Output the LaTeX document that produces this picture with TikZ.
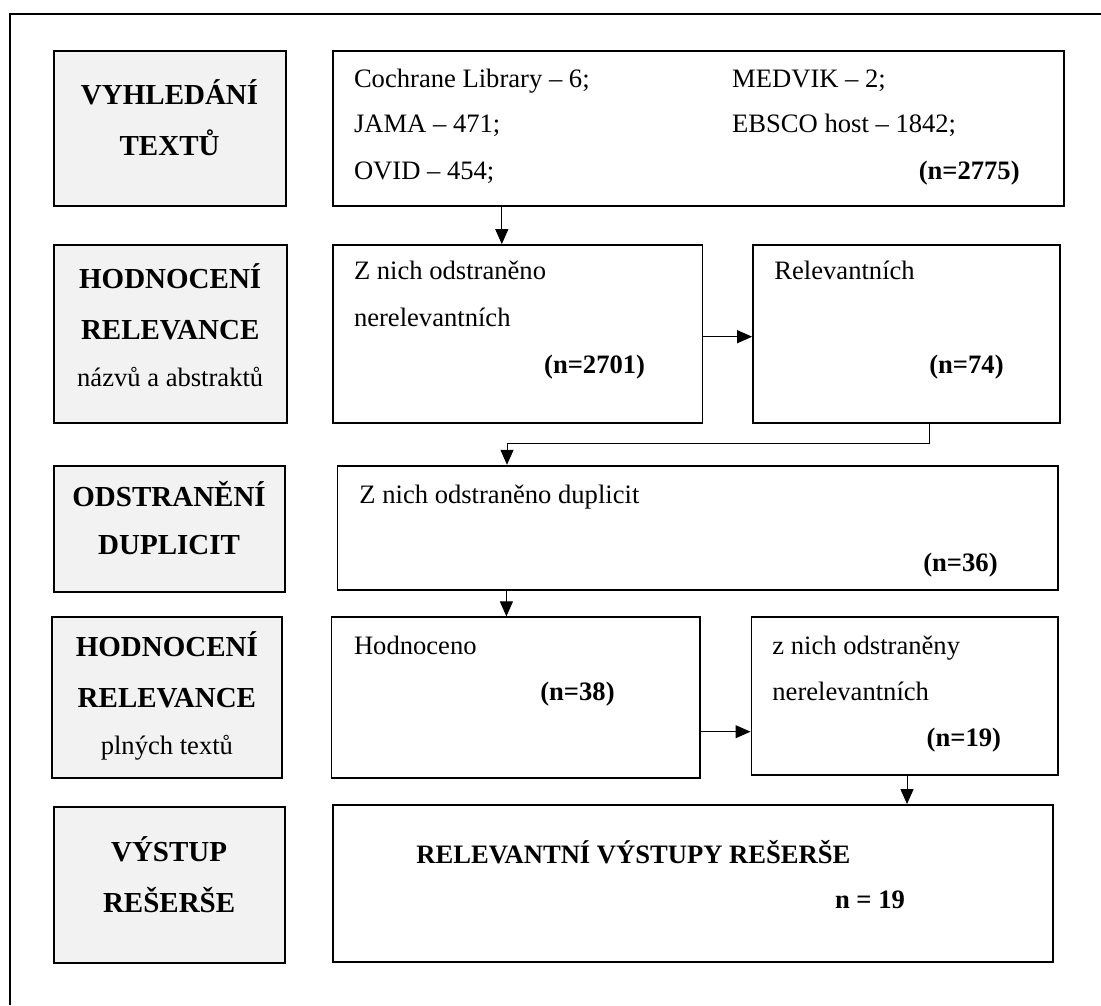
\documentclass[tikz,border=0pt]{standalone}
\usepackage{fontspec}
\setmainfont{Liberation Serif}
\usetikzlibrary{arrows.meta,fit}

\begin{document}
\begin{tikzpicture}[x=0.5pt, y=-0.5pt,
    labbox/.style={draw, line width=0.9pt, fill=black!5, inner sep=0pt},
    infobox/.style={draw, line width=0.9pt, fill=white, inner sep=0pt},
    labtxt/.style={anchor=base, inner sep=0pt, font=\fontsize{14.5}{17}\selectfont\bfseries},
    labsub/.style={anchor=base, inner sep=0pt, font=\fontsize{13.3}{16}\selectfont},
    txt/.style={anchor=base west, inner sep=0pt, font=\fontsize{13.3}{16}\selectfont},
    num/.style={anchor=base east, inner sep=0pt, font=\fontsize{13.3}{16}\selectfont\bfseries},
    arr/.style={-{Triangle[length=7.5pt,width=6.5pt]}, line width=0.5pt}
]
\useasboundingbox (0,0) rectangle (1101,1005);
% outer frame (cut off at right and bottom)
\draw[line width=1pt] (9.6,1005) |- (1101,14);

% left column
\node[labbox, fit={(53.6,50.7) (285.7,206)}] (lab1) {};
\node[labbox, fit={(53.6,245) (286.8,423.3)}] (lab2) {};
\node[labbox, fit={(53.6,465.7) (284.6,591.7)}] (lab3) {};
\node[labbox, fit={(51.8,617.3) (282,777.7)}] (lab4) {};
\node[labbox, fit={(53.6,806.7) (284.6,962.7)}] (lab5) {};

\node[labtxt] (l1a) at (169.6,105) {VYHLEDÁNÍ};
\node[labtxt] (l1b) at (169.6,156) {TEXTŮ};
\node[labtxt] (l2a) at (170.2,288.3) {HODNOCENÍ};
\node[labtxt] (l2b) at (170.2,339.3) {RELEVANCE};
\node[labsub] (l2c) at (170.2,386.7) {názvů a abstraktů};
\node[labtxt] (l3a) at (169.1,506.7) {ODSTRANĚNÍ};
\node[labtxt] (l3b) at (169.1,554) {DUPLICIT};
\node[labtxt] (l4a) at (166.9,656.7) {HODNOCENÍ};
\node[labtxt] (l4b) at (166.9,707.7) {RELEVANCE};
\node[labsub] (l4c) at (166.9,754) {plných textů};
\node[labtxt] (l5a) at (169.1,861.7) {VÝSTUP};
\node[labtxt] (l5b) at (169.1,912.7) {REŠERŠE};

% right column
\node[infobox, fit={(332.9,50.7) (1064,206)}] (src) {};
\node[infobox, fit={(333.2,245) (702.5,423.3)}] (excl1) {};
\node[infobox, fit={(753,245) (1059.6,423.3)}] (rel1) {};
\node[infobox, fit={(337.5,465.7) (1058,590)}] (dup) {};
\node[infobox, fit={(331.4,617.3) (700,777.7)}] (eval) {};
\node[infobox, fit={(751.4,617.3) (1057.9,775)}] (excl2) {};
\node[infobox, fit={(333.2,805) (1053.2,962.3)}] (out) {};

\node[txt] (s1) at (353.6,87.3) {Cochrane Library – 6;};
\node[txt] (s2) at (353.6,132.7) {JAMA – 471;};
\node[txt] (s3) at (353.6,180) {OVID – 454;};
\node[txt] (s4) at (731.8,87.3) {MEDVIK – 2;};
\node[txt] (s5) at (731.8,132.7) {EBSCO host – 1842;};
\node[num] (sn) at (1020,180) {(n=2775)};

\node[txt] (e1a) at (353.6,280) {Z nich odstraněno};
\node[txt] (e1b) at (353.6,326.7) {nerelevantních};
\node[num] (e1n) at (645.4,373.3) {(n=2701)};
\node[txt] (r1a) at (774,280) {Relevantních};
\node[num] (r1n) at (1004,373.3) {(n=74)};

\node[txt] (d1) at (359,503) {Z nich odstraněno duplicit};
\node[num] (dn) at (998,571.7) {(n=36)};

\node[txt] (v1) at (353.6,654) {Hodnoceno};
\node[num] (vn) at (615,700.7) {(n=38)};
\node[txt] (e2a) at (772,654) {z nich odstraněny};
\node[txt] (e2b) at (772,700) {nerelevantních};
\node[num] (e2n) at (1001.4,746.7) {(n=19)};

\node[txt, font=\fontsize{13.3}{16}\selectfont\bfseries] (o1) at (416,863.3) {RELEVANTNÍ VÝSTUPY REŠERŠE};
\node[txt, font=\fontsize{13.3}{16}\selectfont\bfseries] (o2) at (834.6,908.3) {n = 19};

% connectors
\coordinate (c1) at (501.8,0);
\coordinate (c2) at (0,336.7);
\coordinate (c3) at (929.3,443.3);
\coordinate (c4) at (507,443.3);
\coordinate (c5) at (506.4,0);
\coordinate (c6) at (0,731.7);
\coordinate (c7) at (907,0);

\draw[arr] (c1 |- src.south) -- (c1 |- excl1.north);
\draw[arr] (c2 -| excl1.east) -- (c2 -| rel1.west);
\draw[arr] (c3 |- rel1.south) -- (c3) -- (c4) -- (c4 |- dup.north);
\draw[arr] (c5 |- dup.south) -- (c5 |- eval.north);
\draw[arr] (c6 -| eval.east) -- (c6 -| excl2.west);
\draw[arr] (c7 |- excl2.south) -- (c7 |- out.north);
\end{tikzpicture}
\end{document}
